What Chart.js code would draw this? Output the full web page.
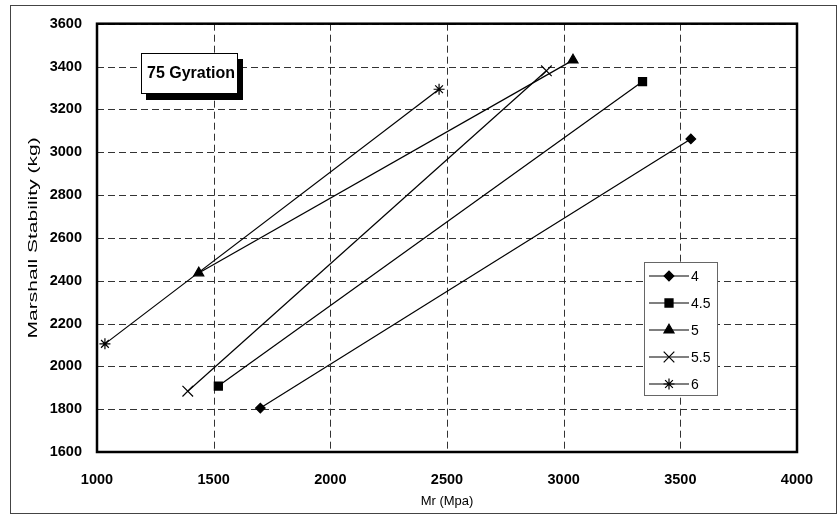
<!DOCTYPE html>
<html>
<head>
<meta charset="utf-8">
<script src="https://cdn.jsdelivr.net/npm/chart.js@4/dist/chart.umd.min.js"></script>
<style>
  html, body { margin: 0; padding: 0; background: #fff; }
  #wrap { width: 839px; height: 517px; position: relative; }
</style>
</head>
<body>
<div id="wrap"><canvas id="chart-area" width="839" height="517"></canvas></div>
<script>
// series labels (asphalt content %)
var seriesNames = ["4", "4.5", "5", "5.5", "6"];
var pointStyles = ["rectRot", "rect", "triangle", "crossRot", "star"];
var pointSizes = [4.8, 5.7, 5.8, 7.5, 5.5];

// Mr (Mpa) values for each series
var mr4 = [1700, 3545];
var mr45 = [1520, 3338];
var mr5 = [1436, 3040];
var mr55 = [1389, 2926];
var mr6 = [1034, 2466];

// Marshall stability (kg) for each series
var ms4 = [1805, 3062];
var ms45 = [1908, 3330];
var ms5 = [2436, 3430];
var ms55 = [1884, 3380];
var ms6 = [2105, 3294];

var xTicks = [1000, 1500, 2000, 2500, 3000, 3500, 4000];
var yTicks = [1600, 1800, 2000, 2200, 2400, 2600, 2800, 3000, 3200, 3400, 3600];

var FONT = "Arial, 'Liberation Sans', sans-serif";

function toPoints(xs, ys) {
    var pts = [];
    for (var i = 0; i < xs.length; i++) {
        pts.push({ x: xs[i], y: ys[i] });
    }
    return pts;
}

var allX = [mr4, mr45, mr5, mr55, mr6];
var allY = [ms4, ms45, ms5, ms55, ms6];
var datasets = [];
for (var i = 0; i < seriesNames.length; i++) {
    datasets.push({
        label: seriesNames[i],
        data: toPoints(allX[i], allY[i]),
        showLine: true,
        borderColor: "#000",
        backgroundColor: "#000",
        borderWidth: 1.2,
        pointStyle: pointStyles[i],
        pointRadius: pointSizes[i],
        pointBorderWidth: 1.2,
        pointBackgroundColor: "#000",
        pointBorderColor: "#000"
    });
}

// frame, dashed grid, plot border, title box, y title and legend
var decorations = {
    id: "decorations",
    beforeDraw: function (chart) {
        var c = chart.ctx;
        c.save();
        c.fillStyle = "#fff";
        c.fillRect(0, 0, chart.width, chart.height);
        c.strokeStyle = "#444";
        c.lineWidth = 1;
        c.strokeRect(10.5, 5.5, 826, 508);

        // y axis title, stretched along its length like the original
        var a = chart.chartArea;
        c.translate(33, (a.top + a.bottom) / 2);
        c.rotate(-Math.PI / 2);
        c.scale(1.62, 1);
        c.fillStyle = "#000";
        c.font = "13px " + FONT;
        c.textAlign = "center";
        c.textBaseline = "middle";
        c.fillText("Marshall Stability (kg)", 0, 0);
        c.restore();
    },
    beforeDatasetsDraw: function (chart) {
        var c = chart.ctx;
        var a = chart.chartArea;
        var xs = chart.scales.x, ys = chart.scales.y;
        c.save();
        c.strokeStyle = "#333";
        c.lineWidth = 1;
        c.setLineDash([7, 4]);
        xTicks.forEach(function (v) {
            var px = Math.round(xs.getPixelForValue(v)) + 0.5;
            c.beginPath();
            c.moveTo(px, a.top);
            c.lineTo(px, a.bottom);
            c.stroke();
        });
        yTicks.forEach(function (v) {
            var py = Math.round(ys.getPixelForValue(v)) + 0.5;
            c.beginPath();
            c.moveTo(a.left, py);
            c.lineTo(a.right, py);
            c.stroke();
        });
        c.restore();
    },
    afterDatasetsDraw: function (chart) {
        var c = chart.ctx;
        var a = chart.chartArea;
        c.save();
        c.strokeStyle = "#000";
        c.lineWidth = 2.5;
        c.strokeRect(a.left, a.top, a.right - a.left, a.bottom - a.top);

        // "75 Gyration" box with shadow
        c.fillStyle = "#000";
        c.fillRect(146, 59, 97, 41);
        c.fillStyle = "#fff";
        c.fillRect(141, 53, 97, 41);
        c.strokeStyle = "#000";
        c.lineWidth = 1;
        c.strokeRect(141.5, 53.5, 96, 40);
        c.fillStyle = "#000";
        c.font = "bold 16px " + FONT;
        c.textBaseline = "middle";
        c.textAlign = "left";
        c.fillText("75 Gyration", 147, 74);

        // legend
        c.fillStyle = "#fff";
        c.fillRect(644, 262, 74, 134);
        c.strokeStyle = "#666";
        c.strokeRect(644.5, 262.5, 73, 133);
        c.font = "14px " + FONT;
        for (var i = 0; i < chart.data.datasets.length; i++) {
            var ds = chart.data.datasets[i];
            var y = 276 + i * 27;
            c.strokeStyle = "#000";
            c.fillStyle = "#000";
            c.lineWidth = 1.2;
            c.beginPath();
            c.moveTo(649, y);
            c.lineTo(689, y);
            c.stroke();
            Chart.helpers.drawPoint(c, {
                pointStyle: ds.pointStyle,
                radius: ds.pointRadius,
                borderWidth: 1.2,
                rotation: 0
            }, 669, y);
            c.fillStyle = "#000";
            c.fillText(ds.label, 691, y + 1);
        }
        c.restore();
    }
};

var ctx = document.getElementById("chart-area").getContext("2d");
var myGraph = new Chart(ctx, {
    type: "scatter",
    data: { datasets: datasets },
    options: {
        responsive: false,
        animation: false,
        layout: { padding: { top: 20, right: 42, left: 0, bottom: 0 } },
        plugins: {
            legend: { display: false },
            tooltip: { enabled: false }
        },
        scales: {
            x: {
                type: "linear",
                min: 1000,
                max: 4000,
                afterBuildTicks: function (scale) {
                    scale.ticks = xTicks.map(function (v) { return { value: v }; });
                },
                afterFit: function (scale) { scale.height = 65; },
                grid: { display: false, drawTicks: false },
                border: { display: false },
                ticks: {
                    color: "#000",
                    padding: 19,
                    maxRotation: 0,
                    callback: function (v) { return String(v); },
                    font: { family: FONT, size: 14.5, weight: "bold" }
                },
                title: {
                    display: true,
                    text: "Mr (Mpa)",
                    color: "#000",
                    padding: 8,
                    font: { family: FONT, size: 13 }
                }
            },
            y: {
                type: "linear",
                min: 1600,
                max: 3600,
                afterBuildTicks: function (scale) {
                    scale.ticks = yTicks.map(function (v) { return { value: v }; });
                },
                afterFit: function (scale) { scale.width = 97; },
                grid: { display: false, drawTicks: false },
                border: { display: false },
                ticks: {
                    color: "#000",
                    padding: 15,
                    callback: function (v) { return String(v); },
                    font: { family: FONT, size: 14.5, weight: "bold" }
                },
                title: { display: false }
            }
        }
    },
    plugins: [decorations]
});
</script>
</body>
</html>
